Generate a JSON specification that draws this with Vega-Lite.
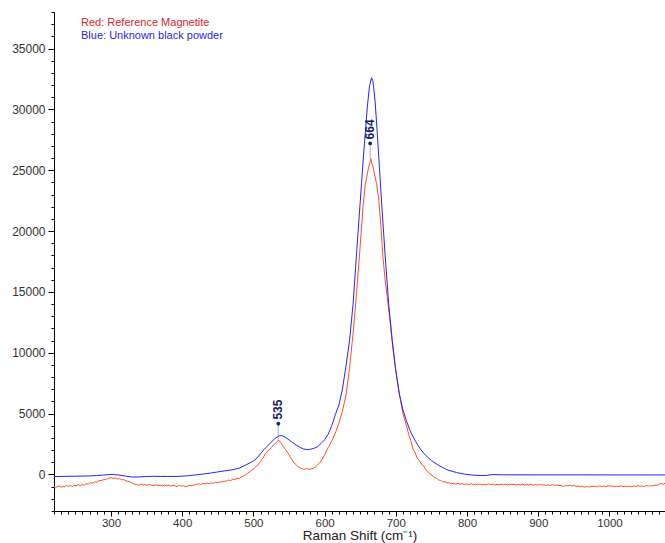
{
  "$schema": "https://vega.github.io/schema/vega-lite/v6.json",
  "width": 611,
  "height": 499,
  "autosize": "none",
  "padding": {"left": 54, "top": 12, "right": 0, "bottom": 32},
  "background": "white",
  "config": {"view": {"stroke": null}, "font": "Liberation Sans"},
  "datasets": {
    "spectra": [
      {"x":220,"y":-1000,"s":"red"},{"x":222,"y":-1100,"s":"red"},{"x":224,"y":-1020,"s":"red"},{"x":227,"y":-920,"s":"red"},{"x":230,"y":-1060,"s":"red"},{"x":232,"y":-960,"s":"red"},{"x":235,"y":-1010,"s":"red"},{"x":238,"y":-880,"s":"red"},{"x":240,"y":-990,"s":"red"},{"x":243,"y":-900,"s":"red"},{"x":246,"y":-980,"s":"red"},{"x":248,"y":-870,"s":"red"},{"x":251,"y":-930,"s":"red"},{"x":254,"y":-830,"s":"red"},{"x":257,"y":-920,"s":"red"},{"x":260,"y":-800,"s":"red"},{"x":262,"y":-880,"s":"red"},{"x":265,"y":-760,"s":"red"},{"x":268,"y":-800,"s":"red"},{"x":271,"y":-680,"s":"red"},{"x":274,"y":-700,"s":"red"},{"x":277,"y":-610,"s":"red"},{"x":280,"y":-640,"s":"red"},{"x":283,"y":-520,"s":"red"},{"x":286,"y":-500,"s":"red"},{"x":289,"y":-440,"s":"red"},{"x":292,"y":-420,"s":"red"},{"x":295,"y":-330,"s":"red"},{"x":298,"y":-300,"s":"red"},{"x":300,"y":-250,"s":"red"},{"x":303,"y":-320,"s":"red"},{"x":306,"y":-280,"s":"red"},{"x":309,"y":-380,"s":"red"},{"x":312,"y":-330,"s":"red"},{"x":315,"y":-440,"s":"red"},{"x":318,"y":-420,"s":"red"},{"x":321,"y":-520,"s":"red"},{"x":324,"y":-560,"s":"red"},{"x":327,"y":-640,"s":"red"},{"x":330,"y":-720,"s":"red"},{"x":333,"y":-800,"s":"red"},{"x":336,"y":-830,"s":"red"},{"x":339,"y":-880,"s":"red"},{"x":342,"y":-790,"s":"red"},{"x":345,"y":-870,"s":"red"},{"x":348,"y":-820,"s":"red"},{"x":351,"y":-900,"s":"red"},{"x":354,"y":-830,"s":"red"},{"x":357,"y":-870,"s":"red"},{"x":360,"y":-920,"s":"red"},{"x":363,"y":-840,"s":"red"},{"x":366,"y":-930,"s":"red"},{"x":369,"y":-870,"s":"red"},{"x":372,"y":-950,"s":"red"},{"x":375,"y":-880,"s":"red"},{"x":378,"y":-930,"s":"red"},{"x":381,"y":-860,"s":"red"},{"x":384,"y":-970,"s":"red"},{"x":387,"y":-890,"s":"red"},{"x":390,"y":-930,"s":"red"},{"x":393,"y":-990,"s":"red"},{"x":396,"y":-900,"s":"red"},{"x":399,"y":-960,"s":"red"},{"x":402,"y":-910,"s":"red"},{"x":405,"y":-1010,"s":"red"},{"x":408,"y":-950,"s":"red"},{"x":411,"y":-880,"s":"red"},{"x":414,"y":-920,"s":"red"},{"x":417,"y":-850,"s":"red"},{"x":420,"y":-820,"s":"red"},{"x":423,"y":-760,"s":"red"},{"x":426,"y":-820,"s":"red"},{"x":429,"y":-740,"s":"red"},{"x":432,"y":-780,"s":"red"},{"x":435,"y":-700,"s":"red"},{"x":438,"y":-760,"s":"red"},{"x":441,"y":-690,"s":"red"},{"x":444,"y":-720,"s":"red"},{"x":447,"y":-630,"s":"red"},{"x":450,"y":-680,"s":"red"},{"x":453,"y":-600,"s":"red"},{"x":456,"y":-620,"s":"red"},{"x":459,"y":-540,"s":"red"},{"x":462,"y":-560,"s":"red"},{"x":465,"y":-450,"s":"red"},{"x":468,"y":-500,"s":"red"},{"x":471,"y":-390,"s":"red"},{"x":474,"y":-400,"s":"red"},{"x":477,"y":-320,"s":"red"},{"x":480,"y":-330,"s":"red"},{"x":483,"y":-200,"s":"red"},{"x":486,"y":-130,"s":"red"},{"x":489,"y":-20,"s":"red"},{"x":492,"y":100,"s":"red"},{"x":495,"y":220,"s":"red"},{"x":498,"y":380,"s":"red"},{"x":501,"y":480,"s":"red"},{"x":504,"y":680,"s":"red"},{"x":507,"y":820,"s":"red"},{"x":510,"y":1080,"s":"red"},{"x":513,"y":1300,"s":"red"},{"x":516,"y":1620,"s":"red"},{"x":519,"y":1850,"s":"red"},{"x":522,"y":2020,"s":"red"},{"x":525,"y":2200,"s":"red"},{"x":528,"y":2420,"s":"red"},{"x":531,"y":2550,"s":"red"},{"x":534,"y":2720,"s":"red"},{"x":536,"y":2800,"s":"red"},{"x":538,"y":2620,"s":"red"},{"x":540,"y":2480,"s":"red"},{"x":542,"y":2300,"s":"red"},{"x":545,"y":2050,"s":"red"},{"x":548,"y":1800,"s":"red"},{"x":551,"y":1520,"s":"red"},{"x":554,"y":1230,"s":"red"},{"x":557,"y":950,"s":"red"},{"x":560,"y":820,"s":"red"},{"x":563,"y":620,"s":"red"},{"x":566,"y":540,"s":"red"},{"x":569,"y":450,"s":"red"},{"x":572,"y":420,"s":"red"},{"x":575,"y":490,"s":"red"},{"x":578,"y":430,"s":"red"},{"x":581,"y":460,"s":"red"},{"x":584,"y":500,"s":"red"},{"x":587,"y":620,"s":"red"},{"x":590,"y":780,"s":"red"},{"x":593,"y":950,"s":"red"},{"x":596,"y":1200,"s":"red"},{"x":600,"y":1600,"s":"red"},{"x":605,"y":2200,"s":"red"},{"x":610,"y":2750,"s":"red"},{"x":615,"y":3400,"s":"red"},{"x":620,"y":4200,"s":"red"},{"x":625,"y":5200,"s":"red"},{"x":630,"y":6500,"s":"red"},{"x":635,"y":8700,"s":"red"},{"x":640,"y":11600,"s":"red"},{"x":645,"y":15000,"s":"red"},{"x":650,"y":18800,"s":"red"},{"x":654,"y":22000,"s":"red"},{"x":657,"y":23800,"s":"red"},{"x":660,"y":24700,"s":"red"},{"x":662,"y":25300,"s":"red"},{"x":664,"y":25700,"s":"red"},{"x":665,"y":25950,"s":"red"},{"x":666,"y":25600,"s":"red"},{"x":668,"y":25300,"s":"red"},{"x":670,"y":24700,"s":"red"},{"x":673,"y":23900,"s":"red"},{"x":676,"y":22600,"s":"red"},{"x":679,"y":20500,"s":"red"},{"x":682,"y":17800,"s":"red"},{"x":685,"y":16000,"s":"red"},{"x":688,"y":14600,"s":"red"},{"x":692,"y":12500,"s":"red"},{"x":696,"y":10300,"s":"red"},{"x":700,"y":8500,"s":"red"},{"x":705,"y":6600,"s":"red"},{"x":710,"y":5000,"s":"red"},{"x":715,"y":4000,"s":"red"},{"x":718,"y":3300,"s":"red"},{"x":721,"y":2800,"s":"red"},{"x":724,"y":2100,"s":"red"},{"x":727,"y":1800,"s":"red"},{"x":730,"y":1350,"s":"red"},{"x":733,"y":1150,"s":"red"},{"x":736,"y":850,"s":"red"},{"x":739,"y":720,"s":"red"},{"x":742,"y":380,"s":"red"},{"x":745,"y":260,"s":"red"},{"x":748,"y":20,"s":"red"},{"x":751,"y":-60,"s":"red"},{"x":754,"y":-260,"s":"red"},{"x":757,"y":-300,"s":"red"},{"x":760,"y":-450,"s":"red"},{"x":763,"y":-500,"s":"red"},{"x":766,"y":-620,"s":"red"},{"x":769,"y":-600,"s":"red"},{"x":772,"y":-700,"s":"red"},{"x":775,"y":-680,"s":"red"},{"x":778,"y":-760,"s":"red"},{"x":781,"y":-720,"s":"red"},{"x":784,"y":-780,"s":"red"},{"x":787,"y":-730,"s":"red"},{"x":790,"y":-800,"s":"red"},{"x":793,"y":-750,"s":"red"},{"x":796,"y":-820,"s":"red"},{"x":799,"y":-770,"s":"red"},{"x":802,"y":-830,"s":"red"},{"x":806,"y":-760,"s":"red"},{"x":809,"y":-850,"s":"red"},{"x":812,"y":-790,"s":"red"},{"x":815,"y":-840,"s":"red"},{"x":818,"y":-770,"s":"red"},{"x":821,"y":-860,"s":"red"},{"x":824,"y":-800,"s":"red"},{"x":827,"y":-850,"s":"red"},{"x":830,"y":-760,"s":"red"},{"x":833,"y":-830,"s":"red"},{"x":836,"y":-790,"s":"red"},{"x":839,"y":-870,"s":"red"},{"x":842,"y":-810,"s":"red"},{"x":845,"y":-860,"s":"red"},{"x":848,"y":-780,"s":"red"},{"x":851,"y":-850,"s":"red"},{"x":854,"y":-800,"s":"red"},{"x":857,"y":-870,"s":"red"},{"x":860,"y":-790,"s":"red"},{"x":863,"y":-840,"s":"red"},{"x":866,"y":-800,"s":"red"},{"x":869,"y":-880,"s":"red"},{"x":872,"y":-810,"s":"red"},{"x":875,"y":-860,"s":"red"},{"x":878,"y":-790,"s":"red"},{"x":881,"y":-870,"s":"red"},{"x":884,"y":-810,"s":"red"},{"x":887,"y":-860,"s":"red"},{"x":890,"y":-800,"s":"red"},{"x":893,"y":-890,"s":"red"},{"x":896,"y":-830,"s":"red"},{"x":899,"y":-880,"s":"red"},{"x":902,"y":-810,"s":"red"},{"x":905,"y":-880,"s":"red"},{"x":908,"y":-840,"s":"red"},{"x":911,"y":-910,"s":"red"},{"x":914,"y":-850,"s":"red"},{"x":917,"y":-900,"s":"red"},{"x":920,"y":-840,"s":"red"},{"x":923,"y":-920,"s":"red"},{"x":926,"y":-860,"s":"red"},{"x":929,"y":-910,"s":"red"},{"x":932,"y":-880,"s":"red"},{"x":935,"y":-1000,"s":"red"},{"x":938,"y":-900,"s":"red"},{"x":941,"y":-930,"s":"red"},{"x":944,"y":-870,"s":"red"},{"x":947,"y":-950,"s":"red"},{"x":950,"y":-900,"s":"red"},{"x":953,"y":-970,"s":"red"},{"x":956,"y":-940,"s":"red"},{"x":959,"y":-1010,"s":"red"},{"x":962,"y":-960,"s":"red"},{"x":965,"y":-1050,"s":"red"},{"x":968,"y":-990,"s":"red"},{"x":971,"y":-1030,"s":"red"},{"x":974,"y":-950,"s":"red"},{"x":977,"y":-1000,"s":"red"},{"x":980,"y":-960,"s":"red"},{"x":983,"y":-1020,"s":"red"},{"x":986,"y":-930,"s":"red"},{"x":989,"y":-990,"s":"red"},{"x":992,"y":-950,"s":"red"},{"x":995,"y":-1000,"s":"red"},{"x":998,"y":-910,"s":"red"},{"x":1001,"y":-970,"s":"red"},{"x":1004,"y":-940,"s":"red"},{"x":1007,"y":-1010,"s":"red"},{"x":1010,"y":-960,"s":"red"},{"x":1013,"y":-990,"s":"red"},{"x":1016,"y":-930,"s":"red"},{"x":1019,"y":-1000,"s":"red"},{"x":1022,"y":-950,"s":"red"},{"x":1025,"y":-1030,"s":"red"},{"x":1028,"y":-970,"s":"red"},{"x":1031,"y":-1010,"s":"red"},{"x":1034,"y":-950,"s":"red"},{"x":1037,"y":-990,"s":"red"},{"x":1040,"y":-920,"s":"red"},{"x":1043,"y":-980,"s":"red"},{"x":1046,"y":-940,"s":"red"},{"x":1049,"y":-990,"s":"red"},{"x":1052,"y":-900,"s":"red"},{"x":1055,"y":-960,"s":"red"},{"x":1058,"y":-910,"s":"red"},{"x":1061,"y":-940,"s":"red"},{"x":1064,"y":-860,"s":"red"},{"x":1067,"y":-900,"s":"red"},{"x":1070,"y":-790,"s":"red"},{"x":1073,"y":-740,"s":"red"},{"x":1076,"y":-800,"s":"red"},{"x":1078,"y":-720,"s":"red"},
      {"x":220,"y":-170,"s":"blue"},{"x":230,"y":-160,"s":"blue"},{"x":240,"y":-150,"s":"blue"},{"x":250,"y":-140,"s":"blue"},{"x":260,"y":-130,"s":"blue"},{"x":270,"y":-120,"s":"blue"},{"x":280,"y":-90,"s":"blue"},{"x":290,"y":-40,"s":"blue"},{"x":300,"y":0,"s":"blue"},{"x":310,"y":-30,"s":"blue"},{"x":320,"y":-130,"s":"blue"},{"x":330,"y":-210,"s":"blue"},{"x":340,"y":-200,"s":"blue"},{"x":350,"y":-170,"s":"blue"},{"x":360,"y":-150,"s":"blue"},{"x":370,"y":-160,"s":"blue"},{"x":380,"y":-160,"s":"blue"},{"x":390,"y":-160,"s":"blue"},{"x":400,"y":-140,"s":"blue"},{"x":410,"y":-90,"s":"blue"},{"x":420,"y":-30,"s":"blue"},{"x":430,"y":40,"s":"blue"},{"x":440,"y":120,"s":"blue"},{"x":450,"y":210,"s":"blue"},{"x":460,"y":300,"s":"blue"},{"x":470,"y":380,"s":"blue"},{"x":480,"y":520,"s":"blue"},{"x":490,"y":800,"s":"blue"},{"x":500,"y":1100,"s":"blue"},{"x":505,"y":1350,"s":"blue"},{"x":510,"y":1700,"s":"blue"},{"x":515,"y":2050,"s":"blue"},{"x":520,"y":2350,"s":"blue"},{"x":525,"y":2650,"s":"blue"},{"x":530,"y":2950,"s":"blue"},{"x":535,"y":3150,"s":"blue"},{"x":540,"y":3200,"s":"blue"},{"x":545,"y":3050,"s":"blue"},{"x":550,"y":2850,"s":"blue"},{"x":555,"y":2620,"s":"blue"},{"x":560,"y":2420,"s":"blue"},{"x":565,"y":2250,"s":"blue"},{"x":570,"y":2100,"s":"blue"},{"x":575,"y":2050,"s":"blue"},{"x":580,"y":2070,"s":"blue"},{"x":585,"y":2150,"s":"blue"},{"x":590,"y":2280,"s":"blue"},{"x":595,"y":2550,"s":"blue"},{"x":600,"y":2850,"s":"blue"},{"x":605,"y":3300,"s":"blue"},{"x":610,"y":4000,"s":"blue"},{"x":615,"y":4900,"s":"blue"},{"x":620,"y":5700,"s":"blue"},{"x":625,"y":7000,"s":"blue"},{"x":630,"y":8900,"s":"blue"},{"x":635,"y":11000,"s":"blue"},{"x":640,"y":14000,"s":"blue"},{"x":645,"y":18300,"s":"blue"},{"x":650,"y":22400,"s":"blue"},{"x":655,"y":26500,"s":"blue"},{"x":660,"y":30200,"s":"blue"},{"x":663,"y":31900,"s":"blue"},{"x":666,"y":32600,"s":"blue"},{"x":668,"y":32300,"s":"blue"},{"x":671,"y":30600,"s":"blue"},{"x":674,"y":28000,"s":"blue"},{"x":677,"y":25200,"s":"blue"},{"x":680,"y":22400,"s":"blue"},{"x":685,"y":18000,"s":"blue"},{"x":690,"y":14000,"s":"blue"},{"x":695,"y":11000,"s":"blue"},{"x":700,"y":8500,"s":"blue"},{"x":705,"y":6600,"s":"blue"},{"x":710,"y":5300,"s":"blue"},{"x":715,"y":4400,"s":"blue"},{"x":720,"y":3600,"s":"blue"},{"x":725,"y":3000,"s":"blue"},{"x":730,"y":2500,"s":"blue"},{"x":735,"y":2050,"s":"blue"},{"x":740,"y":1700,"s":"blue"},{"x":745,"y":1400,"s":"blue"},{"x":750,"y":1150,"s":"blue"},{"x":755,"y":950,"s":"blue"},{"x":760,"y":750,"s":"blue"},{"x":765,"y":600,"s":"blue"},{"x":770,"y":450,"s":"blue"},{"x":775,"y":330,"s":"blue"},{"x":780,"y":240,"s":"blue"},{"x":785,"y":170,"s":"blue"},{"x":790,"y":100,"s":"blue"},{"x":795,"y":50,"s":"blue"},{"x":800,"y":0,"s":"blue"},{"x":810,"y":-60,"s":"blue"},{"x":820,"y":-80,"s":"blue"},{"x":827,"y":-80,"s":"blue"},{"x":834,"y":-10,"s":"blue"},{"x":850,"y":-25,"s":"blue"},{"x":900,"y":-30,"s":"blue"},{"x":950,"y":-30,"s":"blue"},{"x":1000,"y":-35,"s":"blue"},{"x":1050,"y":-35,"s":"blue"},{"x":1078,"y":-35,"s":"blue"}
    ],
    "peaks": [
      {"x": 664, "top": 27200, "peak": 25900, "label": "664"},
      {"x": 535, "top": 4180, "peak": 2750, "label": "535"}
    ]
  },
  "resolve": {"axis": {"x": "independent", "y": "independent"}},
  "layer": [
    {
      "data": {"name": "spectra"},
      "mark": {"type": "line", "strokeWidth": 1, "interpolate": "linear"},
      "encoding": {
        "x": {
          "field": "x", "type": "quantitative",
          "scale": {"domain": [220, 1078], "nice": false, "zero": false},
          "axis": {
            "orient": "bottom", "values": [300, 400, 500, 600, 700, 800, 900, 1000],
            "format": "d", "grid": false, "tickSize": 5, "tickColor": "#000", "domainColor": "#000",
            "labelFontSize": 11.5, "labelColor": "#333", "labelPadding": 1,
            "title": "Raman Shift (cm⁻¹)", "titleFontSize": 13.5, "titleFontWeight": "normal",
            "titleColor": "#222", "titlePadding": 0
          }
        },
        "y": {
          "field": "y", "type": "quantitative",
          "scale": {"domain": [-3000, 38000], "nice": false, "zero": false},
          "axis": {
            "orient": "left", "values": [0, 5000, 10000, 15000, 20000, 25000, 30000, 35000],
            "format": "d", "grid": false, "tickSize": 6, "tickColor": "#000", "domainColor": "#000",
            "labelFontSize": 12, "labelColor": "#333", "labelPadding": 3, "title": null
          }
        },
        "color": {
          "field": "s", "type": "nominal",
          "scale": {"domain": ["red", "blue"], "range": ["#ff4d1f", "#2424ff"]},
          "legend": {
            "orient": "none", "legendX": 16, "legendY": 5, "title": null,
            "symbolSize": 0, "symbolStrokeWidth": 0, "symbolOpacity": 0,
            "labelFontSize": 11, "labelOffset": 0, "padding": 0, "rowPadding": 1,
            "labelExpr": "datum.label == 'red' ? 'Red: Reference Magnetite' : 'Blue: Unknown black powder'",
            "encode": {"labels": {"update": {"fill": {"signal": "datum.value == 'red' ? '#d8252c' : '#1f1ff5'"}}}}
          }
        }
      }
    },
    {
      "data": {"name": "peaks"},
      "mark": {"type": "rule", "strokeDash": [1, 1], "color": "#5b5fa8", "strokeWidth": 1},
      "encoding": {
        "x": {
          "field": "x", "type": "quantitative",
          "axis": {
            "orient": "bottom",
            "values": [220,230,240,250,260,270,280,290,300,310,320,330,340,350,360,370,380,390,400,410,420,430,440,450,460,470,480,490,500,510,520,530,540,550,560,570,580,590,600,610,620,630,640,650,660,670,680,690,700,710,720,730,740,750,760,770,780,790,800,810,820,830,840,850,860,870,880,890,900,910,920,930,940,950,960,970,980,990,1000,1010,1020,1030,1040,1050,1060,1070],
            "labels": false, "domain": false, "grid": false, "tickSize": 3, "tickColor": "#000", "title": null
          }
        },
        "y": {
          "field": "top", "type": "quantitative",
          "axis": {
            "orient": "left",
            "values": [-3000,-2000,-1000,0,1000,2000,3000,4000,5000,6000,7000,8000,9000,10000,11000,12000,13000,14000,15000,16000,17000,18000,19000,20000,21000,22000,23000,24000,25000,26000,27000,28000,29000,30000,31000,32000,33000,34000,35000,36000,37000,38000],
            "labels": false, "domain": false, "grid": false, "tickSize": 3, "tickColor": "#000", "title": null
          }
        },
        "y2": {"field": "peak"}
      }
    },
    {
      "data": {"name": "peaks"},
      "mark": {"type": "point", "filled": true, "size": 14, "color": "#16206e", "opacity": 1},
      "encoding": {
        "x": {"field": "x", "type": "quantitative", "axis": null},
        "y": {"field": "top", "type": "quantitative", "axis": null}
      }
    },
    {
      "data": {"name": "peaks"},
      "mark": {"type": "text", "angle": 270, "align": "left", "baseline": "middle", "dx": 4, "fontSize": 12, "fontWeight": "bold", "color": "#16206e"},
      "encoding": {
        "x": {"field": "x", "type": "quantitative", "axis": null},
        "y": {"field": "top", "type": "quantitative", "axis": null},
        "text": {"field": "label"}
      }
    }
  ]
}
